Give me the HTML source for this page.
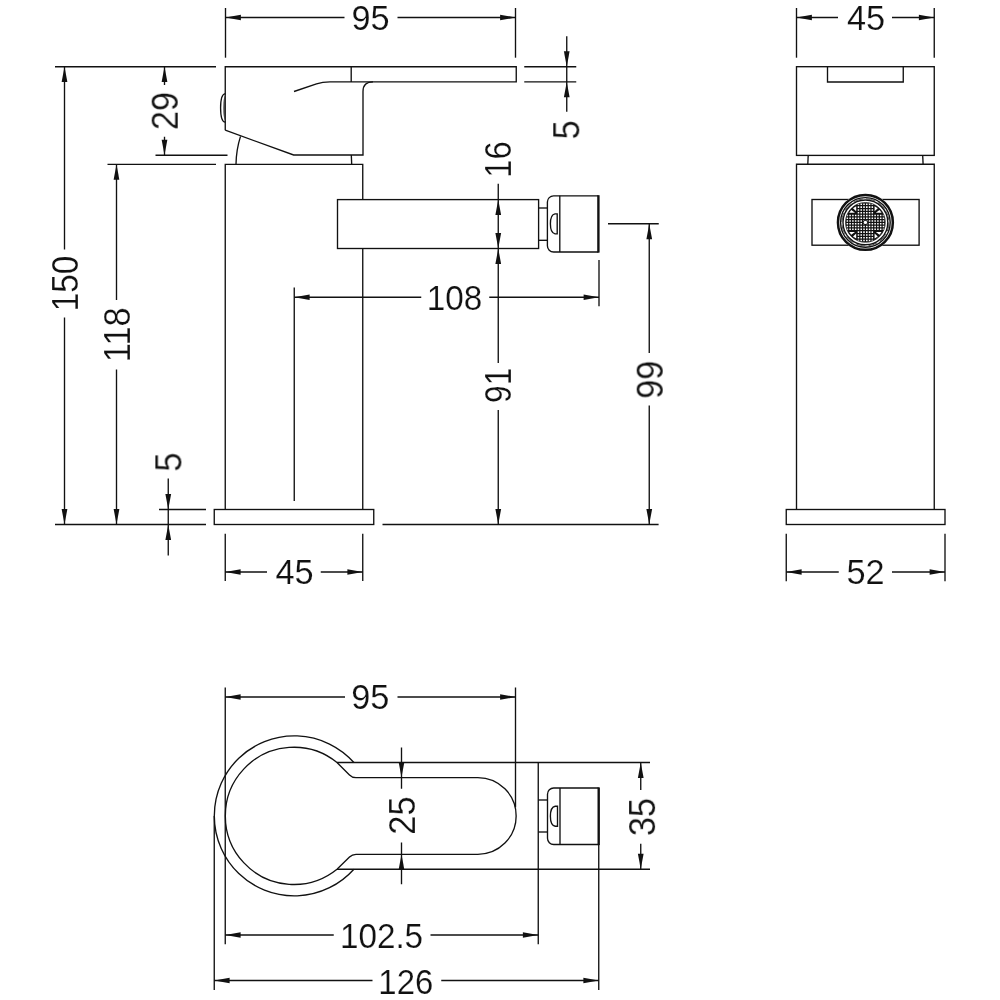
<!DOCTYPE html>
<html lang="en">
<head>
<meta charset="utf-8">
<title>Mono bidet mixer - technical drawing</title>
<style>
html,body{margin:0;padding:0;background:#fff;}
body{width:1000px;height:1000px;overflow:hidden;}
svg{display:block;}
.ln line,.ln path,.ln rect{fill:none;stroke:#111;stroke-width:1.35;stroke-linecap:butt;stroke-linejoin:miter;}
.ar{fill:#111;stroke:none;}
.tx text{font-family:"Liberation Sans",sans-serif;font-size:35.4px;fill:#111;text-anchor:middle;stroke:#fff;stroke-width:0.2px;}
.tx text.v{font-size:36.4px;}
</style>
</head>
<body>
<svg width="1000" height="1000" viewBox="0 0 1000 1000">
<defs>
<clipPath id="mc"><circle r="19.7"/></clipPath>
</defs>
<rect width="1000" height="1000" fill="#fff"/>
<g class="ln">
<path d="M225.25 130.2 V66.7 H516.25 V81.9 H330 Q322.5 81.9 316.5 83.9 L294 91.5"/>
<path d="M225.25 130.2 L293.6 155 H363 V91.5 Q363 81.9 373 81.9"/>
<line x1="351.2" y1="66.7" x2="351.2" y2="81.9"/>
<line x1="351.3" y1="155" x2="351.7" y2="164.3"/>
<path d="M225.25 93.6 C222.3 94 220.6 100 220.6 107.9 C220.6 115.8 222.3 121.8 225.25 122.2"/>
<path d="M225.25 94.6 Q223.3 98 223.3 107.9 Q223.3 118 225.25 121.3 Z" style="fill:#444;stroke:none"/>
<path d="M240.5 136.4 Q236.2 150 236 164.3"/>
<path d="M225.25 509.5 V164.3 H362.75 V199.6"/>
<line x1="362.75" y1="248.5" x2="362.75" y2="509.5"/>
<rect x="337.5" y="199.6" width="201.1" height="48.9"/>
<line x1="538.6" y1="208" x2="547.4" y2="208"/>
<line x1="538.6" y1="240.3" x2="547.4" y2="240.3"/>
<path d="M598.5 195.8 H553.6 A6.2 6.2 0 0 0 547.4 202 V245.8 A6.2 6.2 0 0 0 553.6 252 H598.5"/>
<line x1="598.4" y1="195.2" x2="598.4" y2="252.6" style="stroke-width:2.4"/>
<line x1="559.8" y1="195.8" x2="559.8" y2="252"/>
<path d="M557.2 213.8 H555 C551.6 214.3 550.4 219 550.4 223.8 C550.4 228.6 551.6 233.3 555 233.8 H557.2 Z"/>
<rect x="214.25" y="509.5" width="159.5" height="15"/>
<line x1="382.5" y1="524.5" x2="658.6" y2="524.5"/>
<line x1="225.5" y1="8" x2="225.5" y2="57.7"/>
<line x1="515.5" y1="8" x2="515.5" y2="57.7"/>
<line x1="225.5" y1="17.5" x2="344.5" y2="17.5"/>
<line x1="397.5" y1="17.5" x2="515.5" y2="17.5"/>
<line x1="55" y1="66.7" x2="216" y2="66.7"/>
<line x1="55" y1="524.5" x2="206" y2="524.5"/>
<line x1="64.5" y1="66.7" x2="64.5" y2="249.5"/>
<line x1="64.5" y1="317.5" x2="64.5" y2="524.5"/>
<line x1="107.5" y1="164.3" x2="216" y2="164.3"/>
<line x1="116.5" y1="164.3" x2="116.5" y2="300"/>
<line x1="116.5" y1="369.5" x2="116.5" y2="524.5"/>
<line x1="155.5" y1="155.25" x2="227.5" y2="155.25"/>
<line x1="164.5" y1="66.7" x2="164.5" y2="85"/>
<line x1="164.5" y1="136.75" x2="164.5" y2="155.25"/>
<line x1="159" y1="509.5" x2="206" y2="509.5"/>
<line x1="168.25" y1="478.5" x2="168.25" y2="555.5"/>
<line x1="225.25" y1="533.75" x2="225.25" y2="581"/>
<line x1="362.75" y1="533.75" x2="362.75" y2="581"/>
<line x1="225.25" y1="572" x2="267" y2="572"/>
<line x1="320.75" y1="572" x2="362.75" y2="572"/>
<line x1="294.25" y1="287.5" x2="294.25" y2="501"/>
<line x1="599" y1="260" x2="599" y2="306.25"/>
<line x1="294.25" y1="297.25" x2="421.25" y2="297.25"/>
<line x1="489.25" y1="297.25" x2="599" y2="297.25"/>
<line x1="498.25" y1="183.75" x2="498.25" y2="363"/>
<line x1="498.25" y1="410" x2="498.25" y2="524.5"/>
<line x1="608" y1="223.75" x2="658.75" y2="223.75"/>
<line x1="649.25" y1="223.75" x2="649.25" y2="353"/>
<line x1="649.25" y1="405.5" x2="649.25" y2="524.5"/>
<line x1="524.25" y1="66.7" x2="576.25" y2="66.7"/>
<line x1="524.25" y1="81.9" x2="576.25" y2="81.9"/>
<line x1="566.75" y1="36.25" x2="566.75" y2="111.75"/>
<line x1="796.5" y1="8" x2="796.5" y2="57.7"/>
<line x1="934.25" y1="8" x2="934.25" y2="57.7"/>
<line x1="796.5" y1="17.5" x2="838" y2="17.5"/>
<line x1="892" y1="17.5" x2="934.25" y2="17.5"/>
<rect x="796.5" y="66.7" width="137.75" height="88.7"/>
<path d="M827.5 66.7 V82 H903.25 V66.7"/>
<line x1="808.2" y1="155.4" x2="807.8" y2="164.2"/>
<line x1="922.7" y1="155.4" x2="923.1" y2="164.2"/>
<path d="M796.5 509.5 V164.2 H934.25 V509.5"/>
<rect x="812" y="199.5" width="107.1" height="45.7"/>
<rect x="786.25" y="509.5" width="158.75" height="15"/>
<line x1="786.25" y1="533.75" x2="786.25" y2="581.25"/>
<line x1="945" y1="533.75" x2="945" y2="581.25"/>
<line x1="786.25" y1="572" x2="838.75" y2="572"/>
<line x1="892" y1="572" x2="945" y2="572"/>
<path d="M353.9 762.5 A80 80 0 1 0 353.9 869.25"/>
<path d="M337 762.5 A68.6 68.6 0 1 0 337 869.25 L349.5 857 Q352.2 854.3 356 854.3 H477.8 A38.35 38.35 0 0 0 477.8 777.6 H356 Q352.2 777.6 349.5 774.9 Z"/>
<line x1="337" y1="762.5" x2="650" y2="762.5"/>
<line x1="337" y1="869.25" x2="650" y2="869.25"/>
<line x1="538.25" y1="762.5" x2="538.25" y2="944.25"/>
<line x1="538.25" y1="800" x2="547.5" y2="800"/>
<line x1="538.25" y1="832" x2="547.5" y2="832"/>
<path d="M598.75 788 H553.7 A6.2 6.2 0 0 0 547.5 794.2 V838.3 A6.2 6.2 0 0 0 553.7 844.5 H598.75"/>
<line x1="598.7" y1="787.4" x2="598.7" y2="845.1" style="stroke-width:2.4"/>
<line x1="560" y1="788" x2="560" y2="844.5"/>
<path d="M557.5 806.25 H555.2 C551.7 806.8 550.4 811.5 550.4 816.25 C550.4 821 551.7 825.7 555.2 826.25 H557.5 Z"/>
<line x1="598.75" y1="844.5" x2="598.75" y2="990"/>
<line x1="515.5" y1="687.5" x2="515.5" y2="807.3"/>
<line x1="225.25" y1="687.5" x2="225.25" y2="944.25"/>
<line x1="214.25" y1="816" x2="214.25" y2="990"/>
<line x1="225.25" y1="697" x2="345" y2="697"/>
<line x1="397.5" y1="697" x2="515.5" y2="697"/>
<line x1="401.5" y1="747.5" x2="401.5" y2="788.75"/>
<line x1="401.5" y1="842.5" x2="401.5" y2="884.25"/>
<line x1="640.75" y1="762.5" x2="640.75" y2="790"/>
<line x1="640.75" y1="843.75" x2="640.75" y2="869.25"/>
<line x1="225.25" y1="935" x2="333.75" y2="935"/>
<line x1="430.5" y1="935" x2="538.25" y2="935"/>
<line x1="214.25" y1="980.5" x2="372.5" y2="980.5"/>
<line x1="441.25" y1="980.5" x2="598.75" y2="980.5"/>
</g>
<polygon class="ar" points="225.50,17.50 240.90,14.65 240.90,20.35"/>
<polygon class="ar" points="515.50,17.50 500.10,14.65 500.10,20.35"/>
<polygon class="ar" points="64.50,66.70 61.65,82.10 67.35,82.10"/>
<polygon class="ar" points="64.50,524.50 61.65,509.10 67.35,509.10"/>
<polygon class="ar" points="116.50,164.30 113.65,179.70 119.35,179.70"/>
<polygon class="ar" points="116.50,524.50 113.65,509.10 119.35,509.10"/>
<polygon class="ar" points="164.50,66.70 161.65,82.10 167.35,82.10"/>
<polygon class="ar" points="164.50,155.25 161.65,139.85 167.35,139.85"/>
<polygon class="ar" points="168.25,509.50 165.40,494.10 171.10,494.10"/>
<polygon class="ar" points="168.25,524.50 165.40,539.90 171.10,539.90"/>
<polygon class="ar" points="225.25,572.00 240.65,569.15 240.65,574.85"/>
<polygon class="ar" points="362.75,572.00 347.35,569.15 347.35,574.85"/>
<polygon class="ar" points="294.25,297.25 309.65,294.40 309.65,300.10"/>
<polygon class="ar" points="599.00,297.25 583.60,294.40 583.60,300.10"/>
<polygon class="ar" points="498.25,199.60 495.40,215.00 501.10,215.00"/>
<polygon class="ar" points="498.25,248.50 495.40,233.10 501.10,233.10"/>
<polygon class="ar" points="498.25,248.50 495.40,263.90 501.10,263.90"/>
<polygon class="ar" points="498.25,524.50 495.40,509.10 501.10,509.10"/>
<polygon class="ar" points="649.25,223.75 646.40,239.15 652.10,239.15"/>
<polygon class="ar" points="649.25,524.50 646.40,509.10 652.10,509.10"/>
<polygon class="ar" points="566.75,66.70 563.90,51.30 569.60,51.30"/>
<polygon class="ar" points="566.75,81.90 563.90,97.30 569.60,97.30"/>
<polygon class="ar" points="796.50,17.50 811.90,14.65 811.90,20.35"/>
<polygon class="ar" points="934.25,17.50 918.85,14.65 918.85,20.35"/>
<polygon class="ar" points="786.25,572.00 801.65,569.15 801.65,574.85"/>
<polygon class="ar" points="945.00,572.00 929.60,569.15 929.60,574.85"/>
<polygon class="ar" points="225.25,697.00 240.65,694.15 240.65,699.85"/>
<polygon class="ar" points="515.50,697.00 500.10,694.15 500.10,699.85"/>
<polygon class="ar" points="401.50,777.60 398.65,762.20 404.35,762.20"/>
<polygon class="ar" points="401.50,854.30 398.65,869.70 404.35,869.70"/>
<polygon class="ar" points="640.75,762.50 637.90,777.90 643.60,777.90"/>
<polygon class="ar" points="640.75,869.25 637.90,853.85 643.60,853.85"/>
<polygon class="ar" points="225.25,935.00 240.65,932.15 240.65,937.85"/>
<polygon class="ar" points="538.25,935.00 522.85,932.15 522.85,937.85"/>
<polygon class="ar" points="214.25,980.50 229.65,977.65 229.65,983.35"/>
<polygon class="ar" points="598.75,980.50 583.35,977.65 583.35,983.35"/>
<g class="aer" transform="translate(865.4 222.4)">
<circle r="28.7" fill="#fff"/>
<circle r="27.45" fill="none" stroke="#111" stroke-width="2.5"/>
<circle r="24.8" fill="none" stroke="#111" stroke-width="1.4"/>
<circle r="23.6" fill="none" stroke="#555" stroke-width="1" stroke-dasharray="9 3.36"/>
<circle r="22.4" fill="none" stroke="#111" stroke-width="1.4"/>
<circle r="19.9" fill="#fff"/>
<g clip-path="url(#mc)">
<path d="M-19.46 -20V20M-20 -19.46H20M-16.68 -20V20M-20 -16.68H20M-13.90 -20V20M-20 -13.90H20M-11.12 -20V20M-20 -11.12H20M-8.34 -20V20M-20 -8.34H20M-5.56 -20V20M-20 -5.56H20M-2.78 -20V20M-20 -2.78H20M0.00 -20V20M-20 0.00H20M2.78 -20V20M-20 2.78H20M5.56 -20V20M-20 5.56H20M8.34 -20V20M-20 8.34H20M11.12 -20V20M-20 11.12H20M13.90 -20V20M-20 13.90H20M16.68 -20V20M-20 16.68H20M19.46 -20V20M-20 19.46H20" fill="none" stroke="#111" stroke-width="1.25"/>
<g transform="scale(-1 -1)"><path d="M-8.3 -8.3 H-20 V-20 H-8.3 Z" fill="#111"/><path d="M-9.2 -16.2 V-11.2 L-12.4 -14.2 Z M-16.2 -9.7 H-10.4 L-14.1 -12.3 Z" fill="#fff"/></g>
<g transform="scale(-1 1)"><path d="M-8.3 -8.3 H-20 V-20 H-8.3 Z" fill="#111"/><path d="M-9.2 -16.2 V-11.2 L-12.4 -14.2 Z M-16.2 -9.7 H-10.4 L-14.1 -12.3 Z" fill="#fff"/></g>
<g transform="scale(1 -1)"><path d="M-8.3 -8.3 H-20 V-20 H-8.3 Z" fill="#111"/><path d="M-9.2 -16.2 V-11.2 L-12.4 -14.2 Z M-16.2 -9.7 H-10.4 L-14.1 -12.3 Z" fill="#fff"/></g>
<g transform="scale(1 1)"><path d="M-8.3 -8.3 H-20 V-20 H-8.3 Z" fill="#111"/><path d="M-9.2 -16.2 V-11.2 L-12.4 -14.2 Z M-16.2 -9.7 H-10.4 L-14.1 -12.3 Z" fill="#fff"/></g>
</g>
<circle r="19.9" fill="none" stroke="#111" stroke-width="0.8"/>
<circle r="2.5" fill="#111"/>
<circle r="1.7" fill="#fff"/>
</g>
<g class="tx" opacity="0.999">
<text transform="translate(370.5 30.4) scale(0.9690 1)">95</text>
<text class="v" transform="translate(77.7 283.5) rotate(-90) scale(0.9164 1)">150</text>
<text class="v" transform="translate(129.7 334.75) rotate(-90) scale(0.9448 1)">118</text>
<text class="v" transform="translate(177.7 111) rotate(-90) scale(0.9448 1)">29</text>
<text class="v" transform="translate(181.4 462) rotate(-90) scale(0.9448 1)">5</text>
<text transform="translate(294.6 584.2) scale(0.9690 1)">45</text>
<text transform="translate(454.6 309.8) scale(0.9399 1)">108</text>
<text class="v" transform="translate(511.0 159.6) rotate(-90) scale(0.8975 1)">16</text>
<text class="v" transform="translate(510.9 385.3) rotate(-90) scale(0.8692 1)">91</text>
<text class="v" transform="translate(662.7 379.75) rotate(-90) scale(0.9448 1)">99</text>
<text class="v" transform="translate(579.3 129.75) rotate(-90) scale(0.9448 1)">5</text>
<text transform="translate(866 30.4) scale(0.9690 1)">45</text>
<text transform="translate(865.6 584.4) scale(0.9690 1)">52</text>
<text transform="translate(370.25 709.2) scale(0.9690 1)">95</text>
<text class="v" transform="translate(414.7 815.6) rotate(-90) scale(0.9448 1)">25</text>
<text class="v" transform="translate(655.1 817) rotate(-90) scale(0.9448 1)">35</text>
<text transform="translate(381.5 947.8) scale(0.9399 1)">102.5</text>
<text transform="translate(405.8 993.8) scale(0.9302 1)">126</text>
</g>
</svg>
</body>
</html>
